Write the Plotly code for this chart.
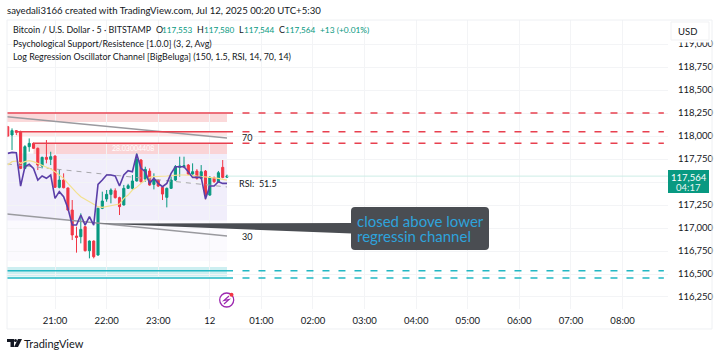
import plotly.graph_objects as go

D = "2025-07-11 "
N = "2025-07-12 "
times = [D + f"{h}:{m:02d}" for h in (20, 21, 22, 23) for m in range(0, 60, 5)][1:] + [N + f"00:{m:02d}" for m in range(0, 25, 5)]

opens = [118101,118011,118058,118047,117648,117884,117920,117866,117674,117768,117746,117782,
         117442,117521,117435,117195,116913,116906,117014,116753,116858,116706,117214,117315,
         117366,117405,117330,117250,117431,117431,117511,117739,117532,117619,117474,117521,
         117442,117333,117431,117521,117659,117666,117684,117587,117619,117540,117619,117358,
         117547,117503,117659,117553]
highs = [118110,118083,118065,118058,117900,117974,117930,117875,117775,117956,117829,117790,
         117630,117594,117440,117304,117014,117159,117020,116865,116865,117220,117395,117413,
         117431,117431,117340,117468,117480,117576,117811,117750,117666,117648,117594,117530,
         117450,117440,117560,117684,117775,117775,117695,117703,117640,117684,117630,117565,
         117560,117620,117739,117580]
lows = [117990,117848,118010,117640,117640,117829,117860,117630,117648,117703,117684,117435,
        117431,117431,117190,116869,116732,116833,116745,116670,116670,116700,117205,117286,
        117268,117320,117141,117245,117425,117413,117505,117495,117503,117460,117420,117445,
        117304,117224,117425,117510,117558,117650,117575,117570,117525,117530,117311,117350,
        117490,117495,117540,117544]
closes = [118000,118058,118040,117648,117884,117920,117866,117684,117768,117746,117775,117442,
          117521,117438,117195,116924,116898,116985,116753,116858,116688,117214,117293,117366,
          117413,117330,117232,117431,117460,117511,117746,117503,117637,117467,117532,117456,
          117369,117431,117521,117666,117674,117677,117587,117612,117540,117612,117358,117550,
          117503,117601,117550,117564]
rsi_line = [117811,117822,117819,117456,117666,117692,117648,117521,117565,117540,117576,117322,
            117395,117340,117214,117032,117032,117141,117032,117123,117032,117474,117521,117576,
            117576,117565,117456,117576,117623,117612,117804,117648,117612,117485,117540,117485,
            117449,117485,117594,117666,117666,117666,117612,117550,117550,117550,117315,117456,
            117456,117503,117485,117485]
rsi_ma = [117684,117721,117728,117703,117721,117732,117721,117703,117684,117666,117641,117612,
          117576,117540,117485,117431,117384,117340,117311,117286,117261,117232,117224,117232,
          117239,117250,117261,117322,117358,117413,117442,117485,117521,117550,117558,117558,
          117561,117565,117569,117576,117576,117576,117576,117572,117565,117561,117558,117550,
          117543,117540,117529,117521]

chan_x = [D + "20:04", N + "00:20"]
chan_upper = [118210, 117978]
chan_mid = [117696, 117446]
chan_lower = [117152, 116913]

red_levels = [118250, 118047, 117920]
red_starts = [D + "20:04", D + "20:15", D + "20:35"]
red_bands = [(118250, 118152), (118047, 117998), (117920, 117804)]
teal_levels = [116536, 116457]
teal_band = (116576, 116473)
last_price = 117564
osc_band = (117810, 117080)
price_ticks = [116250,116500,116750,117000,117250,117500,117750,118000,118250,118500,118750,119000]
price_tick_labels = ["116,250","116,500","116,750","117,000","117,250","","117,750","118,000","118,250","118,500","118,750","119,000"]
time_ticks = [D+"21:00",D+"22:00",D+"23:00",N+"00:00",N+"01:00",N+"02:00",N+"03:00",N+"04:00",N+"05:00",N+"06:00",N+"07:00",N+"08:00"]
time_labels = ["21:00","22:00","23:00","12","01:00","02:00","03:00","04:00","05:00","06:00","07:00","08:00"]

RED="#f23645"; GREEN="#089981"; TEAL="#22b8c4"; INK="#131722"; FONT="Lato"
L,T,PW,PH=7,20,661,289
def px(x): return (x-L)/PW
def py(y): return (T+PH-y)/PH

fig=go.Figure()
fig.add_trace(go.Candlestick(x=times,open=opens,high=highs,low=lows,close=closes,whiskerwidth=0,
    increasing=dict(line=dict(color=GREEN,width=1),fillcolor=GREEN),
    decreasing=dict(line=dict(color=RED,width=1),fillcolor=RED),showlegend=False))
def line(x,y,color,width=1.5,dash="solid"):
    fig.add_trace(go.Scatter(x=x,y=y,mode="lines",line=dict(color=color,width=width,dash=dash),showlegend=False,hoverinfo="skip"))
line(chan_x,chan_upper,"#9a9a9f",1.5)
line(chan_x,chan_lower,"#9a9a9f",1.5)
line(chan_x,chan_mid,"#a8a8ac",1,"5px,5px")
line(times,rsi_ma,"#f3e28f",1.2)
line(times,rsi_line,"#5b3fa8",1.6)
line([N+"00:20",N+"08:53"],[last_price]*2,"#cdeee6",1)
DS=N+"00:38"; DE=N+"08:48"; SE=N+"00:27"
for lvl,st in zip(red_levels,red_starts):
    line([st,SE],[lvl,lvl],"#e8404f",1.5)
    line([DS,DE],[lvl,lvl],"#e8404f",1.5,"7px,9px")
for lvl in teal_levels:
    line([D+"20:04",SE],[lvl,lvl],TEAL,1.5)
    line([DS,DE],[lvl,lvl],TEAL,1.5,"7px,9px")

shapes=[]
def band(x0,x1,y0,y1,c):
    shapes.append(dict(type="rect",xref="x",yref="y",x0=x0,x1=x1,y0=y0,y1=y1,fillcolor=c,line_width=0,layer="below"))
E=N+"00:20"
band(D+"20:04",E,osc_band[0],osc_band[1],"#f1eefb")
band(D+"20:04",E,osc_band[1],116640,"#fbfafe")
band(D+"20:04",E,red_bands[0][0],red_bands[0][1],"#fbd9da")
band(D+"20:15",E,red_bands[1][0],red_bands[1][1],"#fde8e8")
band(D+"20:35",E,red_bands[2][0],red_bands[2][1],"#fad4d6")
band(D+"20:04",E,teal_band[0],teal_band[1],"#cdeff1")
def P(path,fill=None,lc=None,lw=0):
    shapes.append(dict(type="path",xref="paper",yref="paper",path=path,fillcolor=fill,line=dict(color=lc or "rgba(0,0,0,0)",width=lw)))
def poly(pts,close=True):
    return "M "+" L ".join(f"{px(a):.5f},{py(b):.5f}" for a,b in pts)+(" Z" if close else "")
# frame
P(poly([(7,20),(712,20),(712,329),(7,329)]),None,"#eef0f3",1)
# callout
c="#4a4d52"
P(poly([(95,223.5),(352,223),(352,233.5)]),c)
x0,x1,y0,y1,r=351,489,207,250,4
P(f"M {px(x0+r)},{py(y0)} L {px(x1-r)},{py(y0)} Q {px(x1)},{py(y0)} {px(x1)},{py(y0+r)} L {px(x1)},{py(y1-r)} Q {px(x1)},{py(y1)} {px(x1-r)},{py(y1)} L {px(x0+r)},{py(y1)} Q {px(x0)},{py(y1)} {px(x0)},{py(y1-r)} L {px(x0)},{py(y0+r)} Q {px(x0)},{py(y0)} {px(x0+r)},{py(y0)} Z",c)
# price label
P(poly([(668,170),(709,170),(709,193),(668,193)]),GREEN)
# USD box (hides the top of the 119,000 label)
P(poly([(671,30),(711,30),(711,42.5),(671,42.5)]),"#ffffff")
P(poly([(671,22),(709,22),(709,40),(671,40)]),"#ffffff","#f0f1f3",1)
# event icon
def circ(cx,cy,rd,fill,lc=None,lw=0):
    shapes.append(dict(type="circle",xref="paper",yref="paper",x0=px(cx-rd),x1=px(cx+rd),y0=py(cy-rd),y1=py(cy+rd),fillcolor=fill,line=dict(color=lc or "rgba(0,0,0,0)",width=lw)))
circ(226.7,300,7,"#ffffff","#9c27b0",1.3)
P(poly([(229,296),(224,300.5),(229,299.5),(224,304)],False),None,"#9c27b0",1.2)
circ(231.5,294.7,2,RED)
# logo
P(poly([(7,339),(14,339),(14,347),(10.5,347),(10.5,342),(7,342)]),INK)
circ(15.5,340.5,1.5,INK)
P(poly([(18,339),(22,339),(18,347),(14,347)]),INK)

anns=[]
def A(x,y,t,s,color=INK,anchor="left",f=FONT):
    anns.append(dict(x=px(x),y=py(y),xref="paper",yref="paper",text=t,showarrow=False,xanchor=anchor,yanchor="middle",
                     font=dict(size=s,color=color,family=f),align="left",borderpad=0,borderwidth=0))
A(7,10.5,"sayedali3166 created with TradingView.com, Jul 12, 2025 00:20 UTC+5:30",9.6)
A(13,30,"Bitcoin / U.S. Dollar · 5 · BITSTAMP",8.9)
for lx,lab,vx,val in [(155.7,"O",162,"117,553"),(197.3,"H",204,"117,580"),(239,"L",243.7,"117,544"),(279,"C",285,"117,564")]:
    A(lx,30,lab,8.9)
    A(vx,30,val,8.2,GREEN)
A(320,30,"+13 (+0.01%)",8.4,GREEN)
A(13,43,"Psychological Support/Resistence [1.0.0] (3, 2, Avg)",8.9)
A(13,56,"Log Regression Oscillator Channel [BigBeluga] (150, 1.5, RSI, 14, 70, 14)",8.9)
A(242,137.5,"70",9)
A(242,236,"30",9)
A(239,183,"RSI:  51.5",9)
A(112,148,"28.03004408",7,"#ffffff")
A(357,221,"closed above lower",15,"#2ea3dc")
A(357,235.5,"regressin channel",15,"#2ea3dc")
A(688.5,177,"117,564",9.5,"#ffffff","center")
A(688.5,187,"04:17",9.5,"#e6f5f1","center")
A(678,31,"USD",9.5)
A(24,343,"TradingView",11)

fig.update_layout(width=720,height=355,margin=dict(l=L,r=720-L-PW,t=T,b=355-T-PH),paper_bgcolor="#fff",plot_bgcolor="#fff",
    showlegend=False,shapes=shapes,annotations=anns,font=dict(family=FONT,color=INK,size=9.5),
    xaxis=dict(type="date",range=[D+"20:04:10",N+"08:52:50"],rangeslider=dict(visible=False),tickmode="array",tickvals=time_ticks,ticktext=time_labels,
               showgrid=True,gridcolor="#f3f4f6",gridwidth=1,zeroline=False,showline=False,ticks="outside",ticklen=3,tickcolor="rgba(0,0,0,0)",tickfont=dict(size=9.5,color=INK)),
    yaxis=dict(side="right",range=[116119.5,119261],tickmode="array",tickvals=price_ticks,ticktext=price_tick_labels,
               showgrid=True,gridcolor="#f3f4f6",gridwidth=1,zeroline=False,showline=False,ticks="outside",ticklen=7,tickcolor="rgba(0,0,0,0)",tickfont=dict(size=9.5,color=INK)))
fig.write_html("out.html",config=dict(displayModeBar=False),post_script="document.body.style.margin='0';document.documentElement.style.overflow='hidden';")
